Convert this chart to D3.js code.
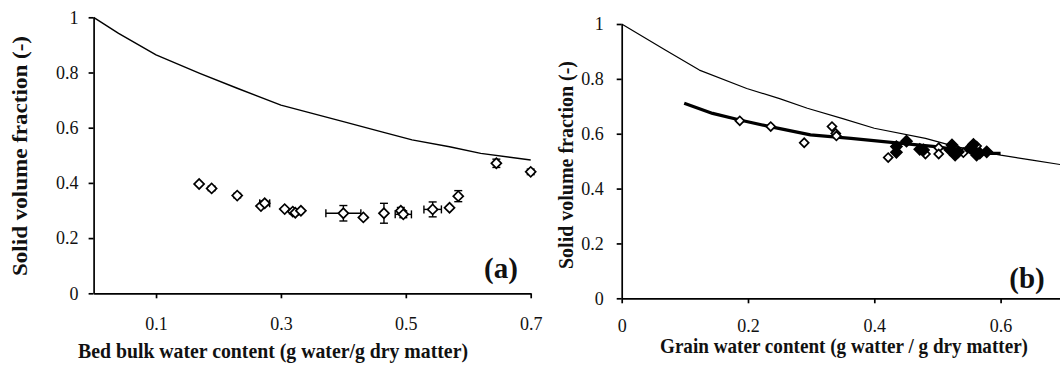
<!DOCTYPE html>
<html>
<head>
<meta charset="utf-8">
<script src="https://cdn.jsdelivr.net/npm/d3@7"></script>
<style>
  body { margin: 0; background: #fff; }
  svg { display: block; }
</style>
</head>
<body>
<script>
// panel (a): bed bulk water content
const modelAX = [0, 0.04, 0.1, 0.17, 0.23, 0.3, 0.35, 0.4, 0.46, 0.51, 0.57, 0.62, 0.7];
const modelAY = [1, 0.942, 0.864, 0.797, 0.743, 0.682, 0.652, 0.622, 0.586, 0.556, 0.531, 0.507, 0.483];

const bedX    = [0.169, 0.189, 0.230, 0.268, 0.274, 0.306, 0.319, 0.323, 0.332, 0.400, 0.432, 0.465, 0.492, 0.496, 0.543, 0.570, 0.584, 0.645, 0.700];
const bedY    = [0.396, 0.380, 0.354, 0.316, 0.326, 0.305, 0.296, 0.292, 0.299, 0.290, 0.275, 0.290, 0.299, 0.286, 0.304, 0.310, 0.352, 0.471, 0.440];
const bedXErr = [0, 0, 0, 0, 0.008, 0, 0, 0, 0, 0.028, 0, 0, 0, 0.013, 0.014, 0, 0, 0, 0];
const bedYErr = [0, 0.008, 0.008, 0, 0.008, 0, 0.008, 0.008, 0, 0.028, 0, 0.036, 0.012, 0.012, 0.027, 0, 0.02, 0.015, 0.01];

// panel (b): grain water content
const modelBX = [0, 0.069, 0.123, 0.198, 0.25, 0.294, 0.35, 0.40, 0.481, 0.529, 0.6, 0.65, 0.71];
const modelBY = [1, 0.905, 0.832, 0.765, 0.728, 0.693, 0.655, 0.620, 0.583, 0.553, 0.522, 0.504, 0.482];

const fitBX = [0.099, 0.144, 0.187, 0.235, 0.299, 0.363, 0.443, 0.497, 0.550, 0.575, 0.600];
const fitBY = [0.711, 0.674, 0.650, 0.626, 0.596, 0.583, 0.565, 0.553, 0.535, 0.528, 0.528];

const openBX = [0.187, 0.236, 0.289, 0.333, 0.339, 0.340, 0.422, 0.481, 0.502, 0.502, 0.541, 0.562];
const openBY = [0.647, 0.626, 0.567, 0.626, 0.601, 0.592, 0.513, 0.526, 0.549, 0.526, 0.531, 0.555];

const fillBX = [0.435, 0.435, 0.451, 0.472, 0.478, 0.523, 0.520, 0.528, 0.533, 0.557, 0.557, 0.562, 0.567, 0.578, 0.552];
const fillBY = [0.553, 0.532, 0.573, 0.543, 0.541, 0.559, 0.541, 0.522, 0.534, 0.561, 0.541, 0.522, 0.529, 0.534, 0.548];

const yTicks = [0, 0.2, 0.4, 0.6, 0.8, 1];
const xTicksA = [0.1, 0.3, 0.5, 0.7];
const xTicksB = [0, 0.2, 0.4, 0.6];

const serif = '"Liberation Serif", "Times New Roman", serif';

let svg = d3.select("body").append("svg")
  .attr("width", 1060)
  .attr("height", 365)
  .style("background", "#fff");

function zip(xs, ys) {
  return xs.map((x, i) => ({x: x, y: ys[i]}));
}

function drawAxes(x, y, xTicks, xPad, yPad) {
  let gx = svg.append("g")
    .attr("transform", "translate(0," + y(0) + ")")
    .call(d3.axisBottom(x).tickValues(xTicks).tickSize(5).tickSizeOuter(0)
      .tickPadding(xPad).tickFormat(d3.format("")));
  let gy = svg.append("g")
    .attr("transform", "translate(" + x(0) + ",0)")
    .call(d3.axisLeft(y).tickValues(yTicks).tickSize(5).tickSizeOuter(0)
      .tickPadding(yPad).tickFormat(d3.format("")));
  [gx, gy].forEach(g => {
    g.attr("font-family", serif).attr("font-size", 18);
    g.selectAll("path, line").attr("stroke", "#000").attr("stroke-width", 1.7);
    g.selectAll("text").attr("fill", "#111");
  });
}

function drawLine(data, x, y, width) {
  svg.append("path")
    .datum(data)
    .attr("fill", "none")
    .attr("stroke", "#000")
    .attr("stroke-width", width)
    .attr("stroke-linejoin", "round")
    .attr("d", d3.line().x(d => x(d.x)).y(d => y(d.y)));
}

function drawDiamonds(data, x, y, size, filled) {
  svg.append("g").selectAll("path")
    .data(data)
    .enter()
    .append("path")
    .attr("d", d3.symbol().type(d3.symbolSquare).size(size))
    .attr("transform", d => "translate(" + x(d.x) + "," + y(d.y) + ") rotate(45)")
    .attr("fill", filled ? "#000" : "#fff")
    .attr("stroke", "#000")
    .attr("stroke-width", 1.7);
}

function drawErrors(data, x, y) {
  let g = svg.append("g").attr("stroke", "#000").attr("stroke-width", 1.4);
  data.forEach(d => {
    if (d.ey > 0) {
      g.append("line").attr("x1", x(d.x)).attr("x2", x(d.x)).attr("y1", y(d.y - d.ey)).attr("y2", y(d.y + d.ey));
      [d.y - d.ey, d.y + d.ey].forEach(v => {
        g.append("line").attr("x1", x(d.x) - 4).attr("x2", x(d.x) + 4).attr("y1", y(v)).attr("y2", y(v));
      });
    }
    if (d.ex > 0) {
      g.append("line").attr("x1", x(d.x - d.ex)).attr("x2", x(d.x + d.ex)).attr("y1", y(d.y)).attr("y2", y(d.y));
      [d.x - d.ex, d.x + d.ex].forEach(v => {
        g.append("line").attr("x1", x(v)).attr("x2", x(v)).attr("y1", y(d.y) - 4).attr("y2", y(d.y) + 4);
      });
    }
  });
}

function label(txt, x, y, size, len, rotate) {
  let t = svg.append("text")
    .attr("font-family", serif)
    .attr("font-weight", "bold")
    .attr("font-size", size)
    .attr("text-anchor", "middle")
    .attr("fill", "#111")
    .text(txt);
  if (len) t.attr("textLength", len).attr("lengthAdjust", "spacingAndGlyphs");
  if (rotate) t.attr("transform", "translate(" + x + "," + y + ") rotate(-90)");
  else t.attr("x", x).attr("y", y);
}

// ---- panel (a)
let xA = d3.scaleLinear().domain([0, 0.7]).range([93.6, 530.7]);
let yA = d3.scaleLinear().domain([0, 1]).range([293.3, 17.3]);

drawAxes(xA, yA, xTicksA, 19, 10);
drawLine(zip(modelAX, modelAY), xA, yA, 1.4);
let bed = bedX.map((x, i) => ({x: x, y: bedY[i], ex: bedXErr[i], ey: bedYErr[i]}));
drawErrors(bed, xA, yA);
drawDiamonds(bed, xA, yA, 50, false);

label("Solid volume fraction  (-)", 27, 156, 21, 240, true);
label("Bed bulk water content (g water/g dry matter)", 273, 358, 22, 390, false);
label("(a)", 501, 278, 29, null, false);

// ---- panel (b)
let xB = d3.scaleLinear().domain([0, 0.8]).range([621.7, 1126.9]);
let yB = d3.scaleLinear().domain([0, 1]).range([298.3, 24]);

drawAxes(xB, yB, xTicksB, 16, 13);
drawLine(zip(modelBX, modelBY), xB, yB, 1.2);
drawLine(zip(fitBX, fitBY), xB, yB, 3.2);
drawDiamonds(zip(openBX, openBY), xB, yB, 40, false);
drawDiamonds(zip(fillBX, fillBY), xB, yB, 60, true);

label("Solid volume fraction  (-)", 573, 165, 20, 208, true);
label("Grain water content (g watter / g dry matter)", 844, 353, 21, 368, false);
label("(b)", 1027, 288, 29, null, false);
</script>
</body>
</html>
